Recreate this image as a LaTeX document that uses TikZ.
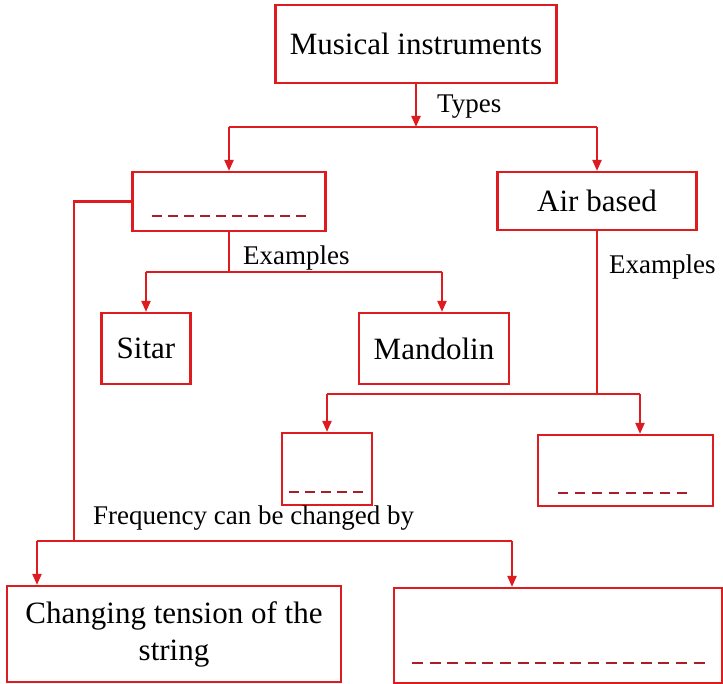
\documentclass[tikz,border=0pt]{standalone}
\usepackage{fontspec}
\setmainfont{Liberation Serif}
\usetikzlibrary{arrows.meta}

\begin{document}
\begin{tikzpicture}[x=1pt,y=1pt,
  box/.style={draw=lineColor,line width=2.2pt,inner sep=0pt,align=center,font=\fontsize{31}{37}\selectfont},
  link/.style={draw=lineColor,line width=2.2pt},
  arrowlink/.style={link,-{Triangle[length=11pt,width=9pt]}},
  tag/.style={anchor=west,inner sep=0pt,font=\fontsize{27}{32}\selectfont},
  blank/.style={draw=dashColor,line width=2.6pt,dash pattern=on 10pt off 6pt}]
\definecolor{lineColor}{RGB}{222,28,32}
\definecolor{dashColor}{RGB}{170,30,40}
\path[use as bounding box,fill=white] (0,0) rectangle (723,684);

\node[box,minimum width=281pt,minimum height=78pt] (instr) at (416,640) {Musical instruments};

\node[box,minimum width=193pt,minimum height=59pt] (string) at (229,482.5) {};

\node[box,minimum width=199pt,minimum height=58pt] (air) at (597,483) {Air based};

\node[box,minimum width=89pt,minimum height=71pt] (sitar) at (146,335.5) {Sitar};

\node[box,minimum width=150pt,minimum height=71pt] (mandolin) at (434,335.5) {Mandolin};

\node[box,minimum width=90pt,minimum height=72pt] (airA) at (327,215) {};

\node[box,minimum width=175pt,minimum height=71pt] (airB) at (625.5,213.5) {};

\node[box,minimum width=334pt,minimum height=96pt] (tension) at (174,50) {Changing tension of the\\string};

\node[box,minimum width=328pt,minimum height=95pt] (other) at (558,48.5) {};

\draw[blank] (152,468) -- (306,468);

\draw[blank] (289,192) -- (363,192);

\draw[blank,dash pattern=on 10pt off 7pt] (558,191) -- (687,191);

\draw[blank,dash pattern=on 11pt off 6.6pt] (412,21) -- (705,21);

\coordinate (typesMid) at (416,557);
\coordinate (typesL) at (229,557);
\coordinate (typesR) at (597,557);

\draw[arrowlink] (instr.south) -- (typesMid);

\draw[link] (typesL) -- (typesR);

\draw[arrowlink] (typesL) -- (string.north);

\draw[arrowlink] (typesR) -- (air.north);

\node[tag] (types) at (437,577) {Types};

\coordinate (exL) at (146,412);
\coordinate (exR) at (442,412);

\draw[link] (string.south) -- (string.south |- exL);

\draw[link] (exL) -- (exR);

\draw[arrowlink] (exL) -- (sitar.north);

\draw[arrowlink] (exR) -- (exR |- mandolin.north);

\node[tag] (exStr) at (243,426) {Examples};

\coordinate (airL) at (327,290);
\coordinate (airR) at (640,290);

\draw[link] (air.south) -- (air.south |- airL);

\draw[link] (airL) -- (airR);

\draw[arrowlink] (airL) -- (airA.north);

\draw[arrowlink] (airR) -- (airR |- airB.north);

\node[tag] (exAir) at (609,417) {Examples};

\coordinate (freqMid) at (74,143);
\coordinate (freqL) at (37,143);
\coordinate (freqR) at (512,143);

\draw[link] (string.west) -| (freqMid);

\draw[link] (freqL) -- (freqR);

\draw[arrowlink] (freqL) -- (freqL |- tension.north);

\draw[arrowlink] (freqR) -- (freqR |- other.north);

\node[tag] (freq) at (93,166) {Frequency can be changed by};
\end{tikzpicture}
\end{document}
